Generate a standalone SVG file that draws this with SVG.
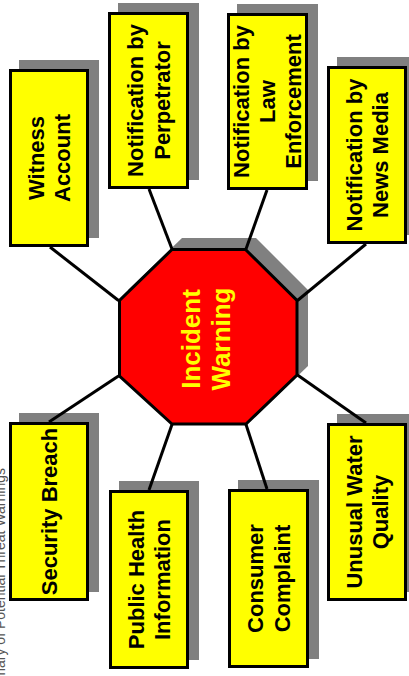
<svg xmlns="http://www.w3.org/2000/svg" width="409" height="676" viewBox="0 0 409 676">
  <style>
    .shadow { fill: #808080; }
    .box { fill: #FFFF00; stroke: #000; stroke-width: 3; }
    .label { font-family: "Liberation Sans", Arial, sans-serif; font-weight: bold; font-size: 22px; fill: #000; text-anchor: middle; }
    .hub { fill: #FF0000; stroke: #000; stroke-width: 3; stroke-linejoin: miter; }
    .hub-label { font-family: "Liberation Sans", Arial, sans-serif; font-weight: bold; font-size: 26px; fill: #FFFF00; text-anchor: middle; }
    .caption { font-family: "Liberation Sans", Arial, sans-serif; font-size: 14px; fill: #555; text-anchor: end; }
    .link { stroke: #000; stroke-width: 3; fill: none; }
  </style>

  <rect width="409" height="676" fill="#fff"/>

  <!-- side caption, mostly running off the left edge -->
  <text class="caption" transform="translate(4.5,468) rotate(-90)">Summary of Potential Threat Warnings</text>

  <!-- central hub -->
  <g id="incident-warning">
    <polygon class="shadow" points="182,238 256,238 308,290 308,366 256,416 182,416 128,366 128,290"/>
    <polygon class="hub" points="172,249.5 245.5,249.5 297,300.5 297,375 246,424 172,424 119.5,376 119.5,300.5"/>
    <g transform="translate(208,339) rotate(-90)">
      <text class="hub-label" y="-8">Incident</text>
      <text class="hub-label" y="22">Warning</text>
    </g>
  </g>

  <!-- upper row -->
  <g id="witness-account">
    <rect class="shadow" x="19" y="60" width="80" height="178"/>
    <rect class="box" x="10.5" y="70.5" width="77" height="175"/>
    <g transform="translate(49,158) rotate(-90)">
      <text class="label" y="-5.5">Witness</text>
      <text class="label" y="21">Account</text>
    </g>
  </g>

  <g id="notification-perpetrator">
    <rect class="shadow" x="118" y="3" width="81" height="177"/>
    <rect class="box" x="109.5" y="13.5" width="78" height="174"/>
    <g transform="translate(148.5,100.5) rotate(-90)">
      <text class="label" y="-5.5">Notification by</text>
      <text class="label" y="21">Perpetrator</text>
    </g>
  </g>

  <g id="notification-law">
    <rect class="shadow" x="237" y="4" width="81" height="177"/>
    <rect class="box" x="228.5" y="14.5" width="78" height="174"/>
    <g transform="translate(267.5,101.5) rotate(-90)">
      <text class="label" y="-19">Notification by</text>
      <text class="label" y="7.5">Law</text>
      <text class="label" y="33">Enforcement</text>
    </g>
  </g>

  <g id="notification-media">
    <rect class="shadow" x="337" y="57" width="80" height="178"/>
    <rect class="box" x="328.5" y="67.5" width="77" height="175"/>
    <g transform="translate(367,155) rotate(-90)">
      <text class="label" y="-5.5">Notification by</text>
      <text class="label" y="21">News Media</text>
    </g>
  </g>

  <!-- lower row -->
  <g id="security-breach">
    <rect class="shadow" x="19" y="413" width="80" height="179"/>
    <rect class="box" x="10.5" y="423.5" width="77" height="176"/>
    <g transform="translate(49,511.5) rotate(-90)">
      <text class="label" y="8">Security Breach</text>
    </g>
  </g>

  <g id="public-health">
    <rect class="shadow" x="119" y="481" width="80" height="179"/>
    <rect class="box" x="110.5" y="491.5" width="77" height="176"/>
    <g transform="translate(149,579.5) rotate(-90)">
      <text class="label" y="-5.5">Public Health</text>
      <text class="label" y="21">Information</text>
    </g>
  </g>

  <g id="consumer-complaint">
    <rect class="shadow" x="238" y="480" width="81" height="179"/>
    <rect class="box" x="229.5" y="490.5" width="78" height="176"/>
    <g transform="translate(268.5,578.5) rotate(-90)">
      <text class="label" y="-5.5">Consumer</text>
      <text class="label" y="21">Complaint</text>
    </g>
  </g>

  <g id="unusual-water-quality">
    <rect class="shadow" x="337" y="414" width="80" height="178"/>
    <rect class="box" x="328.5" y="424.5" width="77" height="175"/>
    <g transform="translate(367,512) rotate(-90)">
      <text class="label" y="-5.5">Unusual Water</text>
      <text class="label" y="20.5">Quality</text>
    </g>
  </g>

  <!-- spokes from the hub corners to each box -->
  <g id="connectors">
    <line class="link" x1="50" y1="247" x2="118.5" y2="300.5"/>
    <line class="link" x1="149" y1="189" x2="172" y2="249"/>
    <line class="link" x1="267" y1="190" x2="246" y2="249"/>
    <line class="link" x1="366" y1="244" x2="297.5" y2="300.5"/>
    <line class="link" x1="49" y1="422" x2="118.5" y2="376"/>
    <line class="link" x1="149" y1="490" x2="172" y2="424.5"/>
    <line class="link" x1="267" y1="489" x2="246" y2="424.5"/>
    <line class="link" x1="366" y1="423" x2="297.5" y2="375"/>
  </g>
</svg>
